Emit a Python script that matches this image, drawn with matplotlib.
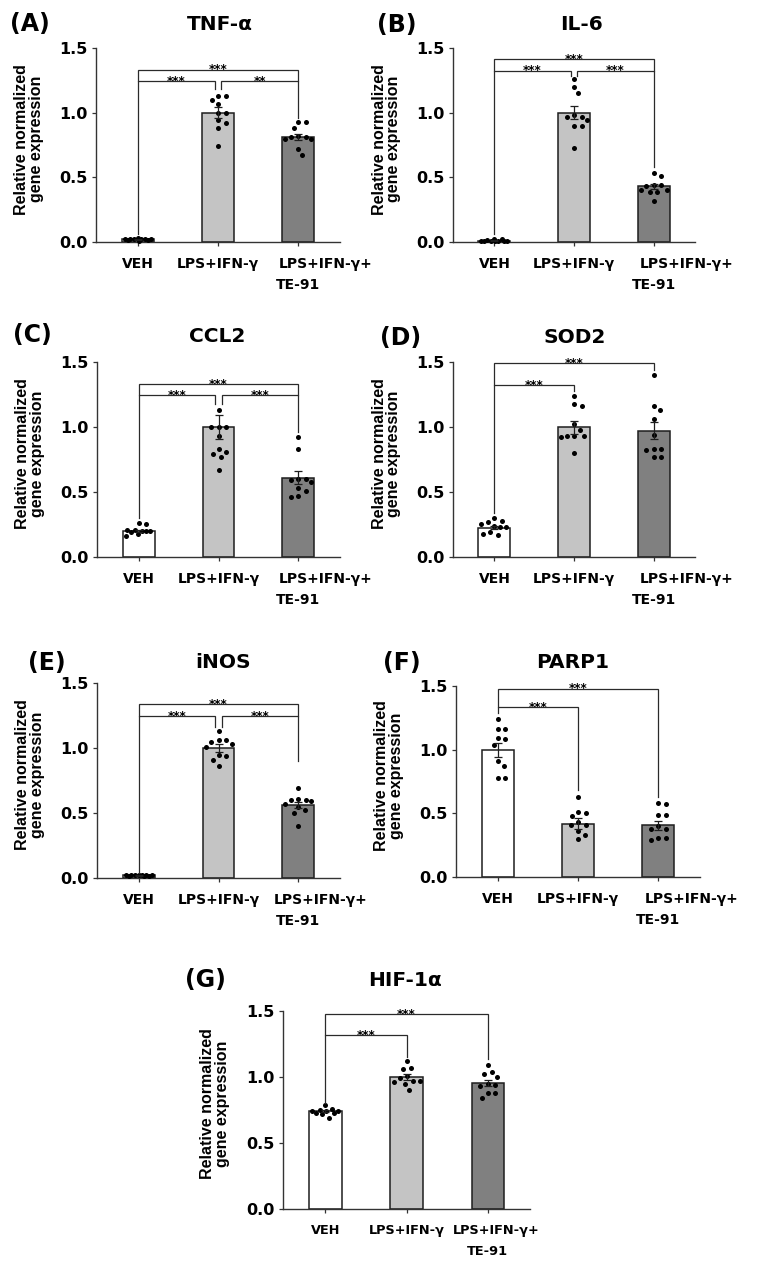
import numpy as np
import matplotlib
matplotlib.use("Agg")
import matplotlib.pyplot as plt

plt.rcParams['font.family'] = ['DejaVu Sans']
plt.rcParams['font.weight'] = 'bold'

W, H = 761, 1270

# ---------------- data ----------------
groups = ["VEH", "LPS+IFN-γ", "LPS+IFN-γ+", "TE-91"]   # last two: two lines of 3rd label
genes = ["TNF-α", "IL-6", "CCL2", "SOD2", "iNOS", "PARP1", "HIF-1α"]
letters = ["(A)", "(B)", "(C)", "(D)", "(E)", "(F)", "(G)"]
yticks = [0.0, 0.5, 1.0, 1.5]
ylabel = "Relative normalized\ngene expression"

tnf_mean = [0.02, 1.00, 0.81]
tnf_sem = [0.003, 0.04, 0.025]
tnf_veh = [0.01, 0.02, 0.02, 0.03, 0.02, 0.015, 0.02, 0.025, 0.02, 0.015]
tnf_lps = [1.13, 1.13, 1.10, 1.07, 1.00, 1.00, 0.94, 0.92, 0.88, 0.74]
tnf_te = [0.93, 0.93, 0.88, 0.82, 0.81, 0.80, 0.81, 0.80, 0.72, 0.67]
tnf_sig = [(0, 1, 1.244, "***", 0.06, 1.18), (1, 2, 1.244, "**", 1.18, 0.96),
           (0, 2, 1.333, "***", 1.244, 1.244)]

il6_mean = [0.01, 1.00, 0.43]
il6_sem = [0.003, 0.05, 0.02]
il6_veh = [0.005, 0.01, 0.01, 0.02, 0.015, 0.01, 0.005, 0.01, 0.025, 0.01]
il6_lps = [1.26, 1.20, 1.15, 0.97, 0.98, 0.97, 0.94, 0.90, 0.90, 0.73]
il6_te = [0.53, 0.51, 0.44, 0.44, 0.43, 0.39, 0.40, 0.40, 0.39, 0.32]
il6_sig = [(0, 1, 1.326, "***", 0.06, 1.28), (1, 2, 1.326, "***", 1.28, 0.58),
           (0, 2, 1.415, "***", 1.326, 1.326)]

ccl2_mean = [0.20, 1.00, 0.61]
ccl2_sem = [0.008, 0.09, 0.05]
ccl2_veh = [0.26, 0.25, 0.21, 0.21, 0.20, 0.20, 0.20, 0.19, 0.18, 0.16]
ccl2_lps = [1.13, 1.00, 1.00, 1.00, 0.93, 0.83, 0.81, 0.79, 0.77, 0.67]
ccl2_te = [0.92, 0.83, 0.60, 0.59, 0.58, 0.60, 0.53, 0.51, 0.47, 0.46]
ccl2_sig = [(0, 1, 1.244, "***", 0.30, 1.18), (1, 2, 1.244, "***", 1.18, 0.96),
            (0, 2, 1.333, "***", 1.244, 1.244)]

sod2_mean = [0.225, 1.00, 0.97]
sod2_sem = [0.012, 0.05, 0.065]
sod2_veh = [0.30, 0.28, 0.27, 0.25, 0.24, 0.23, 0.23, 0.19, 0.17, 0.18]
sod2_lps = [1.24, 1.18, 1.16, 1.02, 0.98, 0.93, 0.92, 0.93, 0.93, 0.80]
sod2_te = [1.40, 1.16, 1.13, 1.06, 0.94, 0.83, 0.83, 0.82, 0.77, 0.77]
sod2_sig = [(0, 1, 1.32, "***", 0.34, 1.28), (0, 2, 1.49, "***", 1.32, 1.44)]

inos_mean = [0.02, 1.00, 0.56]
inos_sem = [0.001, 0.03, 0.025]
inos_veh = [0.018, 0.02, 0.022, 0.02, 0.019, 0.021, 0.02, 0.02, 0.018, 0.022]
inos_lps = [1.13, 1.06, 1.06, 1.05, 1.03, 1.01, 0.95, 0.94, 0.91, 0.86]
inos_te = [0.69, 0.59, 0.60, 0.60, 0.61, 0.57, 0.55, 0.52, 0.50, 0.40]
inos_sig = [(0, 1, 1.249, "***", 0.04, 1.16), (1, 2, 1.249, "***", 1.16, 0.90),
            (0, 2, 1.338, "***", 1.249, 1.249)]

parp1_mean = [1.00, 0.42, 0.405]
parp1_sem = [0.055, 0.04, 0.035]
parp1_veh = [1.24, 1.16, 1.16, 1.08, 1.09, 1.04, 0.91, 0.87, 0.78, 0.78]
parp1_lps = [0.63, 0.50, 0.51, 0.48, 0.43, 0.41, 0.41, 0.36, 0.33, 0.30]
parp1_te = [0.58, 0.57, 0.49, 0.49, 0.40, 0.38, 0.38, 0.31, 0.29, 0.31]
parp1_sig = [(0, 1, 1.335, "***", 1.29, 0.68), (0, 2, 1.48, "***", 1.335, 0.63)]

hif_mean = [0.74, 1.00, 0.955]
hif_sem = [0.008, 0.02, 0.025]
hif_veh = [0.79, 0.75, 0.74, 0.73, 0.74, 0.76, 0.74, 0.73, 0.72, 0.69]
hif_lps = [1.12, 1.07, 1.06, 1.01, 0.99, 0.97, 0.97, 0.96, 0.95, 0.90]
hif_te = [1.09, 1.04, 1.02, 1.00, 0.95, 0.94, 0.93, 0.88, 0.88, 0.84]
hif_sig = [(0, 1, 1.317, "***", 0.80, 1.15), (0, 2, 1.474, "***", 1.317, 1.14)]

panels = [
    (tnf_mean, tnf_sem, [tnf_veh, tnf_lps, tnf_te], tnf_sig),
    (il6_mean, il6_sem, [il6_veh, il6_lps, il6_te], il6_sig),
    (ccl2_mean, ccl2_sem, [ccl2_veh, ccl2_lps, ccl2_te], ccl2_sig),
    (sod2_mean, sod2_sem, [sod2_veh, sod2_lps, sod2_te], sod2_sig),
    (inos_mean, inos_sem, [inos_veh, inos_lps, inos_te], inos_sig),
    (parp1_mean, parp1_sem, [parp1_veh, parp1_lps, parp1_te], parp1_sig),
    (hif_mean, hif_sem, [hif_veh, hif_lps, hif_te], hif_sig),
]

# ---------------- layout (pixels) ----------------
rects = [(96, 48, 340, 242), (453, 48, 695, 242),
         (97, 362, 340, 557), (453, 362, 695, 557),
         (97, 683, 340, 878), (456, 686, 700, 877),
         (283, 1011, 530, 1209)]
title_pos = [(220, 25), (582, 25), (217, 337), (575, 338),
             (223, 663), (573, 663), (405, 980)]
letter_pos = [(10, 24), (377, 25), (13, 335), (380, 338),
              (28, 663), (383, 663), (185, 980)]
te_shift_px = [-20, -14, -20, -14, -25, -14, -35]
xfs = [10, 10, 10, 10, 10, 10, 9.3]

bar_colors = ["white", "#c4c4c4", "#808080"]
edge = "#1e1e1e"
XLIM = (-0.52, 2.52)
BAR_W = 0.40

fig = plt.figure(figsize=(W / 100, H / 100), dpi=100)


def swarm(vals, ppx, ppy, dpx=7.5, maxw=13.0):
    vals = np.asarray(vals, float)
    order = np.argsort(-vals)
    cands = [0.0]
    step = 0.5
    k = 1
    while k * step <= maxw:
        cands += [k * step, -k * step]
        k += 1
    placed = []
    offs = np.zeros(len(vals))
    for idx in order:
        y = vals[idx] * ppy
        best = None
        bestd = -1
        bestc = 0.0
        for c in cands:
            if not placed:
                best = c
                break
            d = min(np.hypot(c - px, y - py) for px, py in placed)
            if d >= dpx:
                best = c
                break
            if d > bestd:
                bestd, bestc = d, c
        if best is None:
            best = bestc
        placed.append((best, y))
        offs[idx] = best / ppx
    return offs


for p, (means, sems, pts, sig) in enumerate(panels):
    l, t, r, b = rects[p]
    ax = fig.add_axes([l / W, 1 - b / H, (r - l) / W, (b - t) / H])
    ppx = (r - l) / (XLIM[1] - XLIM[0])
    ppy = (b - t) / 1.5
    x = np.arange(3)
    ax.bar(x, means, width=BAR_W, color=bar_colors, edgecolor=edge,
           linewidth=1.1, zorder=2)
    for i in range(3):
        offs = swarm(pts[i], ppx, ppy)
        ax.scatter(i + offs, pts[i], s=13, color="black", linewidths=0,
                   zorder=3, clip_on=False)
    ax.errorbar(x, means, yerr=sems, fmt="none", ecolor=edge, elinewidth=0.9,
                capsize=3, capthick=0.9, zorder=4)

    # significance brackets
    has_mid = sum(1 for s in sig if 1 in (s[0], s[1])) > 1
    gap = 0.04 if has_mid else 0.0
    for (i, j, yb, lab, bi, bj) in sig:
        xi = i + (gap if i == 1 else 0.0)
        xj = j - (gap if j == 1 else 0.0)
        ax.plot([xi, xi, xj, xj], [bi, yb, yb, bj], color="#2a2a2a",
                lw=0.9, zorder=5, clip_on=False, solid_joinstyle="miter")
        ax.annotate(lab, xy=((xi + xj) / 2, yb), xytext=(0, -2.8),
                    textcoords="offset points", ha="center", va="baseline",
                    fontsize=8.5, fontweight="bold", annotation_clip=False)

    ax.set_xlim(*XLIM)
    ax.set_ylim(0, 1.5)
    for s in ["top", "right"]:
        ax.spines[s].set_visible(False)
    for s in ["left", "bottom"]:
        ax.spines[s].set_color("#333333")
        ax.spines[s].set_linewidth(1.0)
    ax.set_yticks(yticks)
    ax.set_yticklabels([f"{v:.1f}" for v in yticks], fontsize=11.5,
                       fontweight="bold")
    ax.set_xticks(x)
    ax.set_xticklabels([groups[0], groups[1], ""], fontsize=xfs[p],
                       fontweight="bold")
    ax.tick_params(axis="both", direction="out", length=3, width=0.9,
                   color="#333333")
    ax.tick_params(axis="x", pad=8)
    ax.tick_params(axis="y", pad=3)
    sh = te_shift_px[p] * 0.72
    ax.annotate(groups[2], xy=(2, 0), xytext=(sh, -11), textcoords="offset points",
                ha="left", va="top", fontsize=xfs[p], fontweight="bold",
                annotation_clip=False)
    ax.annotate(groups[3], xy=(2, 0), xytext=(0, -26), textcoords="offset points",
                ha="center", va="top", fontsize=xfs[p], fontweight="bold",
                annotation_clip=False)
    ax.set_ylabel(ylabel, fontsize=11.5, fontweight="bold",
                  family=["Liberation Sans", "DejaVu Sans"],
                  labelpad=9, linespacing=0.95)
    ax.yaxis.set_label_coords(-0.215, 0.53)
    tx, ty = title_pos[p]
    fig.text(tx / W, 1 - ty / H, genes[p], ha="center", va="center",
             fontsize=14.5, fontweight="bold")
    lx, ly = letter_pos[p]
    fig.text(lx / W, 1 - ly / H, letters[p], ha="left", va="center",
             fontsize=17, fontweight="bold")

fig.savefig("out.png", dpi=100, facecolor="white")
